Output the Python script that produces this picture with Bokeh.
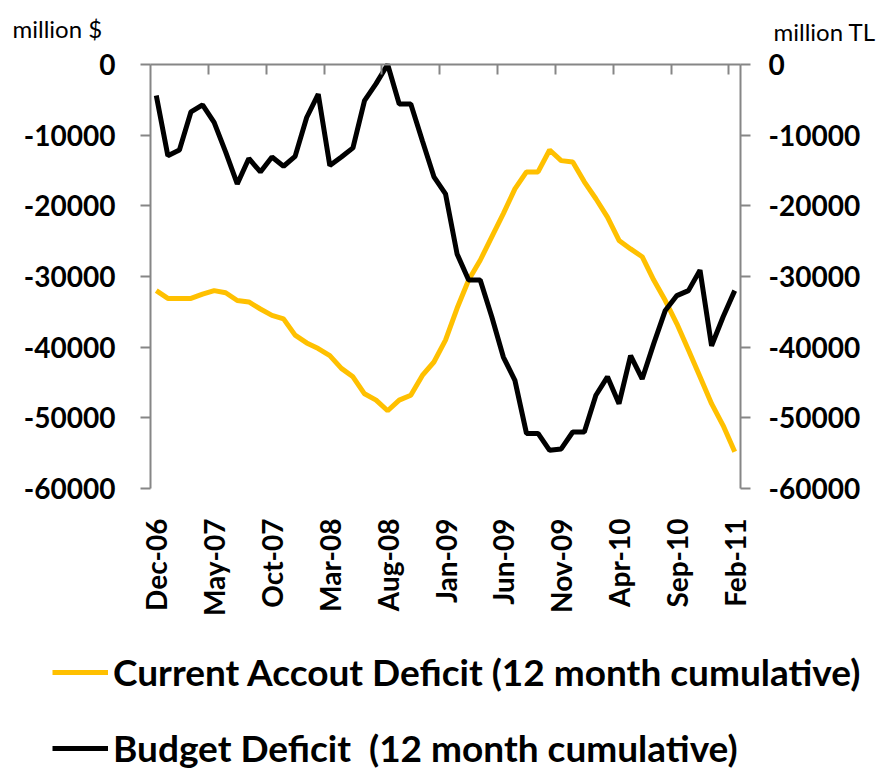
import math
from bokeh.plotting import figure
from bokeh.models import (Range1d, LinearAxis, FixedTicker, NumeralTickFormatter,
                          Legend, LegendItem, Label, ColumnDataSource)
from bokeh.embed import file_html
from bokeh.resources import INLINE

# ---- data (Dec-06 .. Feb-11, monthly) ----
current_account = [-32000, -33100, -33100, -33100, -32500, -32000, -32300, -33400, -33600, -34600,
                   -35500, -36000, -38300, -39400, -40200, -41200, -43000, -44200, -46600, -47500,
                   -49000, -47500, -46800, -44000, -42100, -39000, -34500, -30500, -27700, -24400,
                   -21100, -17600, -15200, -15200, -12100, -13600, -13800, -16600, -19000, -21600,
                   -24900, -26100, -27200, -30500, -33400, -36700, -40400, -44200, -48000, -51100, -54800]
budget = [-4400, -12900, -12100, -6700, -5700, -8200, -12400, -16900, -13300, -15200,
          -13100, -14400, -13000, -7500, -4200, -14300, -13100, -11800, -5100, -2700,
          0, -5600, -5600, -10800, -15900, -18300, -26800, -30500, -30500, -35700,
          -41400, -44700, -52200, -52200, -54600, -54400, -52000, -52000, -46800, -44200,
          -48000, -41200, -44500, -39500, -34800, -32700, -32000, -29100, -39800, -35700, -32000]
tick_labels = ["Dec-06", "May-07", "Oct-07", "Mar-08", "Aug-08", "Jan-09",
               "Jun-09", "Nov-09", "Apr-10", "Sep-10", "Feb-11"]
y_ticks = [0, -10000, -20000, -30000, -40000, -50000, -60000]
series_names = ["Current Accout Deficit (12 month cumulative)",
                "Budget Deficit  (12 month cumulative)"]
axis_titles = ["million $", "million TL"]
colors = ["#FFC000", "#000000"]

n = len(budget)
idx = list(range(n))
src = ColumnDataSource(dict(x=idx, ca=current_account, bd=budget))

FONT = "Lato"
AX = "#868686"
W, H = 876, 771
# plot-area box in canvas pixels (layout)
PL, PR, PT, PB = 150, 740, 64, 488
Y_MIN, Y_MAX = -60000, 0
X_MIN, X_MAX = -0.5, n - 0.5

# the frame covers the whole canvas; the data box is mapped onto PL..PR x PT..PB
xu = (X_MAX - X_MIN) / (PR - PL)
yu = (Y_MAX - Y_MIN) / (PB - PT)
x_range = Range1d(X_MIN - PL * xu, X_MAX + (W - PR) * xu)
y_range = Range1d(Y_MIN - (H - PB) * yu, Y_MAX + PT * yu)

p = figure(width=W, height=H, output_backend="svg", toolbar_location=None,
           x_range=x_range, y_range=y_range,
           x_axis_location=None, y_axis_location=None,
           min_border_left=0, min_border_right=0, min_border_top=0, min_border_bottom=0)
p.extra_y_ranges = {"tl": Range1d(y_range.start, y_range.end)}
p.outline_line_color = None
p.background_fill_color = "white"
p.border_fill_color = "white"
for g in p.grid:
    g.visible = False


def style_y(ax, standoff):
    ax.ticker = FixedTicker(ticks=y_ticks)
    ax.formatter = NumeralTickFormatter(format="0")
    ax.bounds = (Y_MIN, Y_MAX)
    ax.axis_line_color = AX
    ax.axis_line_width = 2
    ax.major_tick_line_color = AX
    ax.major_tick_line_width = 2
    ax.major_tick_out = 10
    ax.major_tick_in = 0
    ax.minor_tick_line_color = None
    ax.major_label_text_font = FONT
    ax.major_label_text_font_style = "bold"
    ax.major_label_text_font_size = "28px"
    ax.major_label_text_color = "black"
    ax.major_label_standoff = standoff


yl = LinearAxis(fixed_location=X_MIN)
style_y(yl, 25)
p.add_layout(yl, "left")
yr = LinearAxis(y_range_name="tl", fixed_location=X_MAX)
style_y(yr, 18)
p.add_layout(yr, "right")

# category axis crossing at 0 (top), tick marks between categories
xt = LinearAxis(fixed_location=Y_MAX)
xt.bounds = (X_MIN, X_MAX)
xt.ticker = FixedTicker(ticks=[k - 0.5 for k in range(5, n, 5)])
xt.axis_line_color = AX
xt.axis_line_width = 2
xt.major_tick_line_color = AX
xt.major_tick_line_width = 2
xt.major_tick_in = 10
xt.major_tick_out = 0
xt.minor_tick_line_color = None
xt.major_label_text_font_size = "0px"
xt.major_label_text_alpha = 0
xt.major_label_standoff = 0
p.add_layout(xt, "above")

# category labels in "low" position
xb = LinearAxis(fixed_location=Y_MIN)
xb.bounds = (X_MIN, X_MAX)
label_pos = list(range(0, n, 5))
xb.ticker = FixedTicker(ticks=label_pos)
xb.major_label_overrides = {pos: lab for pos, lab in zip(label_pos, tick_labels)}
xb.major_label_orientation = math.pi / 2
xb.axis_line_color = None
xb.major_tick_line_color = None
xb.minor_tick_line_color = None
xb.major_tick_out = 0
xb.major_tick_in = 0
xb.major_label_text_font = FONT
xb.major_label_text_font_style = "bold"
xb.major_label_text_font_size = "28px"
xb.major_label_text_color = "black"
xb.major_label_standoff = 30
p.add_layout(xb, "below")

r_ca = p.line("x", "ca", source=src, line_color=colors[0], line_width=5)
r_bd = p.line("x", "bd", source=src, line_color=colors[1], line_width=5, y_range_name="tl")

legend = Legend(items=[LegendItem(label=series_names[0], renderers=[r_ca]),
                       LegendItem(label=series_names[1], renderers=[r_bd])],
                location=(52, 1), orientation="vertical",
                margin=0, padding=0, border_line_color=None, background_fill_alpha=0,
                glyph_width=56, glyph_height=40, label_height=40, label_standoff=5,
                spacing=31, label_text_font=FONT, label_text_font_style="bold",
                label_text_font_size="37px", label_text_color="black")
p.add_layout(legend, "center")

p.add_layout(Label(x=12, y=H - 28, x_units="screen", y_units="screen", text=axis_titles[0],
                   text_font=FONT, text_font_size="24px", text_color="black",
                   text_baseline="alphabetic"))
p.add_layout(Label(x=773, y=H - 31, x_units="screen", y_units="screen", text=axis_titles[1],
                   text_font=FONT, text_font_size="24px", text_color="black",
                   text_baseline="alphabetic"))

open("out.html", "w").write(file_html(p, INLINE))
